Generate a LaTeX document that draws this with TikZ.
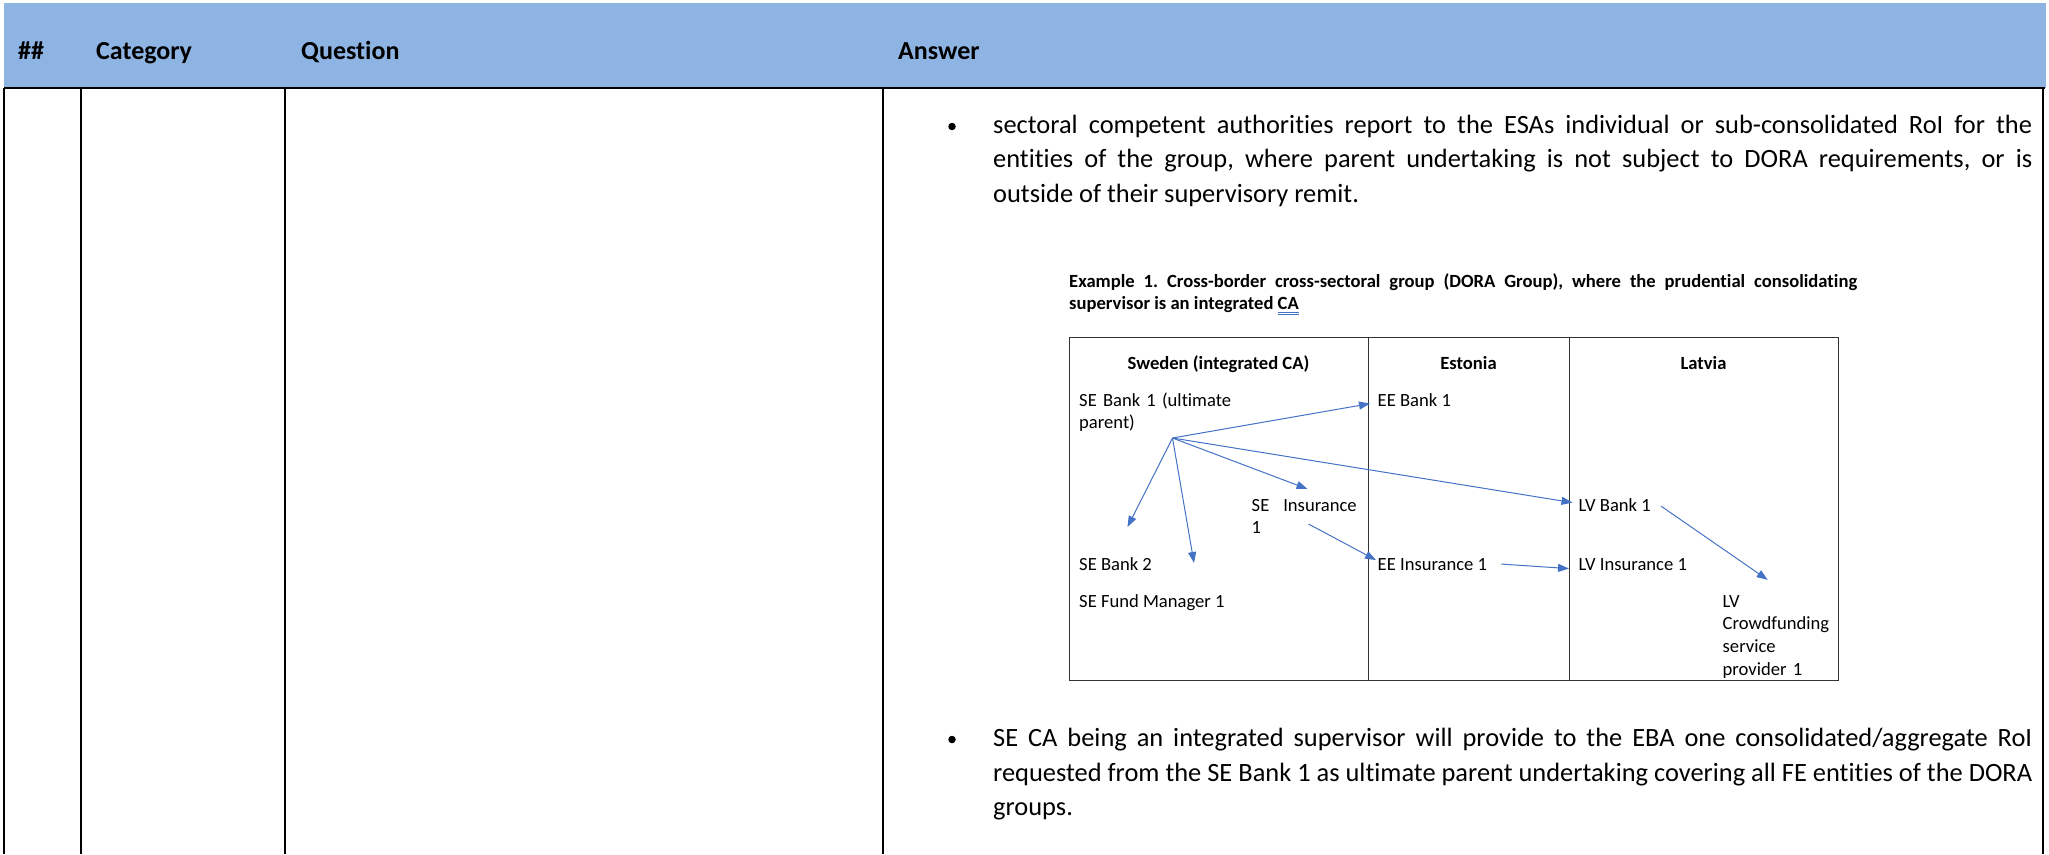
\documentclass[tikz,border=0pt]{standalone}
\usepackage{fontspec}
\setmainfont{Carlito}[Ligatures=NoCommon]
\usetikzlibrary{arrows.meta,positioning}
\definecolor{headblue}{HTML}{8EB4E3}
\definecolor{linkblue}{HTML}{4472C4}
\frenchspacing
% blue double underline, as in the scanned caption
\newcommand{\caul}[1]{\setbox0\hbox{#1}\rlap{\textcolor{linkblue}{\rule[-3pt]{\wd0}{0.8pt}}}\rlap{\textcolor{linkblue}{\rule[-5.5pt]{\wd0}{0.8pt}}}\box0}
\tikzset{
      headtext/.style={
        anchor=base west,
        inner sep=0pt,
        font=\fontsize{26}{34}\selectfont\bfseries
      },
      bodypara/.style={
        anchor=base west,
        inner sep=0pt,
        text width=1039pt,
        align=justify,
        font=\fontsize{26.4}{34.5}\selectfont\frenchspacing
      },
      bulletdot/.style={circle, fill=black, inner sep=0pt, minimum size=7.5pt},
      gridline/.style={line width=2.6pt},
      cellline/.style={draw=black!80, line width=0.9pt},
      captext/.style={
        anchor=base west,
        inner sep=0pt,
        text width=788pt,
        align=justify,
        font=\fontsize{18.6}{22.7}\selectfont\bfseries\frenchspacing
      },
      colhead/.style={anchor=base, inner sep=0pt, font=\fontsize{18.6}{22.7}\selectfont\bfseries},
      entity/.style={anchor=base west, inner sep=0pt, align=left, font=\fontsize{18.6}{22.7}\selectfont},
      entitybox/.style={entity, text width=#1},
      link/.style={draw=linkblue, line width=1pt, -{Triangle[length=11pt,width=8pt]}}
    }
\begin{document}
\begin{tikzpicture}[x=1pt,y=-1pt]
    \useasboundingbox (0,0) rectangle (2049,854);
    % header row
    \fill[headblue] (4,3) rectangle (2046,88);
    \node[headtext] (hnum) at (18,59.3) {\#\#};
    \node[headtext] (hcat) at (96,59.3) {Category};
    \node[headtext] (hque) at (301,59.3) {Question};
    \node[headtext] (hans) at (898,59.3) {Answer};
    % table rules
    \draw[gridline] (4,88) -- (2045,88);
    \foreach \x in {4,81,285,883,2043}
      \draw[gridline] (\x,88) -- (\x,854);
    % answer text
    \node[bulletdot] (dot1) at (952,126.5) {};
    \node[bodypara] (para1) at (993,133) {sectoral competent authorities report to the ESAs individual or sub-consolidated RoI for the\linebreak entities of the group, where parent undertaking is not subject to DORA requirements, or is\linebreak outside of their supervisory remit.};
    \node[captext] (cap) at (1069,287) {Example 1. Cross-border cross-sectoral group (DORA Group), where the prudential consolidating\linebreak supervisor is an integrated \caul{CA}};
    % example table
    \draw[cellline] (1069,337) rectangle (1838,680);
    \draw[cellline] (1368,337) -- (1368,680);
    \draw[cellline] (1569,337) -- (1569,680);
    \node[colhead] (hse) at (1218.5,369) {Sweden (integrated CA)};
    \node[colhead] (hee) at (1468.5,369) {Estonia};
    \node[colhead] (hlv) at (1703.5,369) {Latvia};
    \node[entitybox=220pt] (seb1) at (1079,406) {SE Bank 1 (ultimate\\parent)};
    \node[entity] (eeb1) at (1377.5,406) {EE Bank 1};
    \node[entitybox=110pt] (seins) at (1251.5,511) {\makebox[105pt][l]{SE\hfill Insurance}\\1};
    \node[entity] (lvb1) at (1578.5,511) {LV Bank 1};
    \node[entity] (seb2) at (1079,570) {SE Bank 2};
    \node[entity] (eeins) at (1377.5,570) {EE Insurance 1};
    \node[entity] (lvins) at (1578.5,570) {LV Insurance 1};
    \node[entity] (sefm) at (1079,607) {SE Fund Manager 1};
    \node[entitybox=110pt] (lvcf) at (1722.5,607) {LV\\Crowdfunding\\service\\provider 1};
    \coordinate (hub) at (1172.5,438);
    \coordinate (tipa) at (1127.5,527);
    \coordinate (tipb) at (1194,563);
    \coordinate (tipc) at (1307.5,489);
    \coordinate (insout) at (1308.5,524);
    \draw[link] (hub) -- ([xshift=-7.5pt,yshift=-4pt]eeb1.west);
    \draw[link] (hub) -- (tipa);
    \draw[link] (hub) -- (tipb);
    \draw[link] (hub) -- (tipc);
    \draw[link] (hub) -- ([xshift=-6pt,yshift=2pt]lvb1.west);
    \draw[link] (insout) -- ([xshift=-1.5pt,yshift=4pt]eeins.west);
    \draw[link] ([xshift=14pt]eeins.east) -- ([xshift=-9.5pt,yshift=-4.5pt]lvins.west);
    \draw[link] ([xshift=10pt,yshift=-1.5pt]lvb1.east) -- ([xshift=-10pt,yshift=15pt]lvcf.north);
    \node[bulletdot] (dot2) at (952,739.5) {};
    \node[bodypara] (para2) at (993,746.7) {SE CA being an integrated supervisor will provide to the EBA one consolidated/aggregate RoI\linebreak requested from the SE Bank 1 as ultimate parent undertaking covering all FE entities of the DORA\linebreak groups.};
\end{tikzpicture}
\end{document}
